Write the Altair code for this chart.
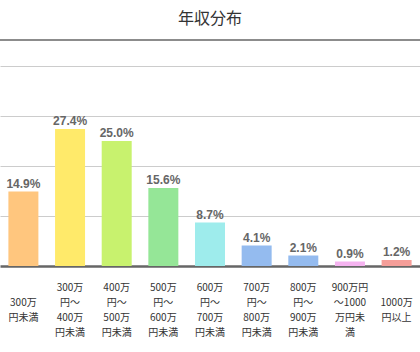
import altair as alt
import pandas as pd

categories = [
    " |300万|円未満",
    "300万|円～|400万|円未満",
    "400万|円～|500万|円未満",
    "500万|円～|600万|円未満",
    "600万|円～|700万|円未満",
    "700万|円～|800万|円未満",
    "800万|円～|900万|円未満",
    "900万円|～1000|万円未|満",
    " |1000万|円以上",
]
values = [14.9, 27.4, 25.0, 15.6, 8.7, 4.1, 2.1, 0.9, 1.2]
colors = ["#FFC67E", "#FFEA6A", "#C8F26E", "#95E697", "#9EECEC",
          "#94BBEF", "#94BBEF", "#F5B3F0", "#F59E99"]
grid_values = [10, 20, 30, 40]
y_max = 45.2

df = pd.DataFrame({"cat": categories, "value": values, "color": colors})

x = alt.X("cat:N", sort=None, title=None,
          scale=alt.Scale(paddingInner=0.357, paddingOuter=0.18),
          axis=alt.Axis(labelAngle=0, labelExpr="split(datum.label, '|')",
                        labelFont="Noto Sans CJK JP", labelFontSize=10,
                        labelColor="#333333", labelLineHeight=15,
                        labelBaseline="middle", labelPadding=21,
                        ticks=False, domainColor="#666666", domainWidth=2.5,
                        grid=False, labelLimit=200))
y = alt.Y("value:Q", title=None,
          scale=alt.Scale(domain=[0, y_max], nice=False, zero=True),
          axis=alt.Axis(labels=False, ticks=False, domain=False,
                        values=grid_values, gridColor="#cccccc", gridWidth=1))

bars = alt.Chart(df).mark_bar().encode(
    x=x, y=y, color=alt.Color("color:N", scale=None)
)

text = alt.Chart(df).transform_calculate(
    lbl="format(datum.value, '.1f') + '%'"
).mark_text(dy=-8, font="Liberation Sans", fontSize=12, fontWeight="bold",
            color="#666666").encode(
    x=alt.X("cat:N", sort=None), y="value:Q", text="lbl:N"
)

top = alt.Chart(pd.DataFrame({"v": [y_max]})).mark_rule(
    color="#666666", strokeWidth=1.5
).encode(y="v:Q")

chart = alt.layer(bars, text, top).properties(
    width=420, height=226,
    padding={"top": 40, "bottom": 86, "left": 0, "right": 0},
    autosize=alt.AutoSizeParams(type="none"),
    title=alt.TitleParams("年収分布", font="Noto Sans CJK JP", fontSize=16,
                          fontWeight="normal", color="#333333", anchor="middle",
                          offset=12),
).configure_view(stroke=None)

chart.save("out.html", embed_options={"renderer": "svg", "actions": False})
